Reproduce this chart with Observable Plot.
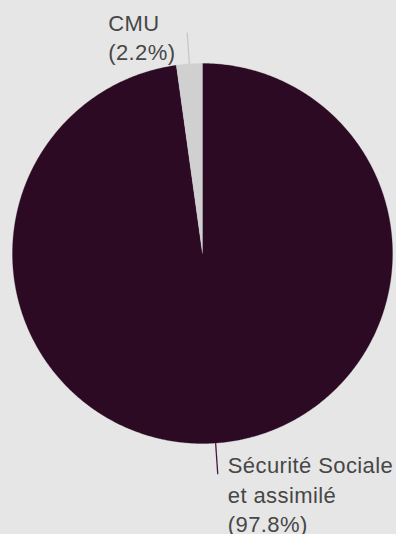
<!DOCTYPE html>
<html>
<head>
<meta charset="utf-8">
<script src="https://cdn.jsdelivr.net/npm/d3@7"></script>
<script src="https://cdn.jsdelivr.net/npm/@observablehq/plot@0.6"></script>
<style>
  html, body { margin: 0; padding: 0; background: #e6e6e6; }
  #chart svg { display: block; }
  #chart svg text { letter-spacing: 0.4px; }
</style>
</head>
<body>
<div id="chart"></div>
<script>
// ---- data ----
const categories = ["Sécurité Sociale et assimilé", "CMU"];
const labelLines = [["Sécurité Sociale", "et assimilé"], ["CMU"]];
const values = [97.8, 2.2];
const colors = ["#2c0a23", "#d0d0d0"];
const leaderColors = ["#4a1340", "#c8c8c8"];

// ---- geometry via d3.pie (angles clockwise from top) ----
const arcs = d3.pie().sort(null).value(d => d)(values);
const pts = [];
arcs.forEach((a, i) => {
  pts.push({cat: categories[i], color: colors[i], x: 0, y: 0});
  const n = Math.max(4, Math.ceil((a.endAngle - a.startAngle) / (Math.PI / 360)));
  for (let k = 0; k <= n; k++) {
    const t = a.startAngle + (a.endAngle - a.startAngle) * k / n;
    pts.push({cat: categories[i], color: colors[i], x: Math.sin(t), y: Math.cos(t)});
  }
});
const leaders = arcs.map((a, i) => {
  const m = (a.startAngle + a.endAngle) / 2;
  return {
    x1: Math.sin(m), y1: Math.cos(m),
    x2: Math.sin(m) * 1.165, y2: Math.cos(m) * 1.165,
    color: leaderColors[i],
    text: labelLines[i].concat([`(${values[i]}%)`]).join("\n")
  };
});

const chart = Plot.plot({
  width: 396,
  height: 534,
  margin: 0,
  x: {domain: [-1, 1], range: [12, 392], axis: null},
  y: {domain: [-1, 1], range: [443, 63], axis: null},
  color: {type: "identity"},
  style: {background: "#e6e6e6", fontFamily: "'Liberation Sans', Arial, sans-serif"},
  marks: [
    Plot.line(pts, {x: "x", y: "y", z: "cat", fill: "color", stroke: "color", strokeWidth: 0.3, curve: "linear"}),
    Plot.link(leaders, {x1: "x1", y1: "y1", x2: "x2", y2: "y2", stroke: "color", strokeWidth: 1.3}),
    Plot.text([leaders[0]], {x: "x2", y: "y2", text: "text", textAnchor: "start", lineAnchor: "top",
      lineHeight: 1.34, dx: 10, dy: -22, fontSize: 22, fill: "#474747"}),
    Plot.text([leaders[1]], {x: "x2", y: "y2", text: "text", textAnchor: "start", lineAnchor: "top",
      lineHeight: 1.34, dx: -79, dy: -23, fontSize: 22, fill: "#474747"})
  ]
});
document.getElementById("chart").appendChild(chart);
</script>
</body>
</html>
